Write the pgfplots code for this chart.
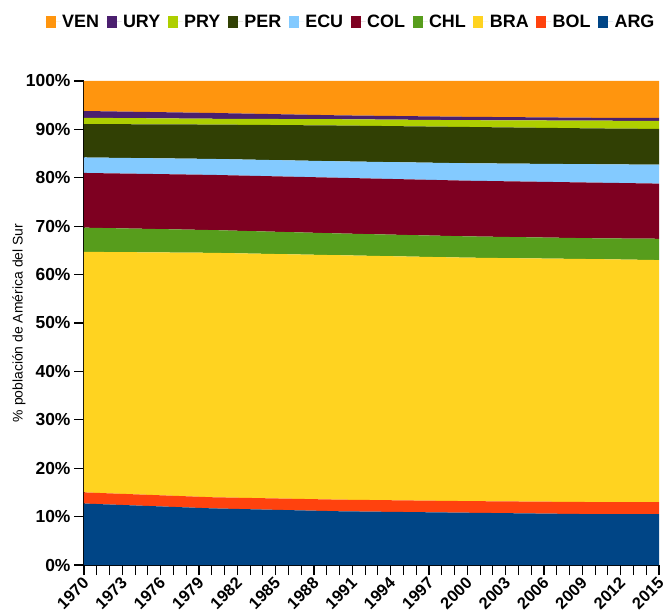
\documentclass[border=0pt]{standalone}
\usepackage{pgfplots}
\pgfplotsset{compat=1.18}
\usepackage{pgfplotstable}
\usepackage{fontspec}
\setmainfont{Liberation Sans}
\definecolor{cVEN}{HTML}{FF950E}
\definecolor{cURY}{HTML}{4B1F6F}
\definecolor{cPRY}{HTML}{AECF00}
\definecolor{cPER}{HTML}{314004}
\definecolor{cECU}{HTML}{83CAFF}
\definecolor{cCOL}{HTML}{7E0021}
\definecolor{cCHL}{HTML}{579D1C}
\definecolor{cBRA}{HTML}{FFD320}
\definecolor{cBOL}{HTML}{FF420E}
\definecolor{cARG}{HTML}{004586}
\pgfplotstableread{
year ARG BOL BRA CHL COL ECU PER PRY URY VEN
1970 12.7 2.3 49.7 5.0 11.3 3.2 6.9 1.3 1.4 6.2
1980 11.7 2.3 50.5 4.7 11.4 3.3 7.1 1.2 1.2 6.6
1990 11.1 2.4 50.5 4.5 11.5 3.4 7.4 1.3 0.8 7.1
2000 10.8 2.4 50.3 4.4 11.5 3.6 7.5 1.4 0.7 7.4
2010 10.5 2.5 50.2 4.3 11.5 3.8 7.4 1.6 0.6 7.6
2015 10.5 2.5 50.0 4.4 11.4 3.9 7.4 1.65 0.65 7.6
}\datatab
\begin{document}
\begin{tikzpicture}
\begin{axis}[
  name=ax,
  scale only axis,
  width=575bp, height=484bp,
  xmin=1970, xmax=2015, ymin=0, ymax=100,
  stack plots=y,
  axis lines*=left,
  axis line style={black, line width=1.2pt, -},
  tick align=outside,
  major tick length=10bp,
  minor tick length=10bp,
  tick style={black, line width=1.2pt},
  xtick={1970,1973,...,2015},
  minor xtick={1970,1971,...,2015},
  ytick={0,10,...,100},
  /pgf/number format/assume math mode=true,
  xticklabel={\pgfmathprintnumber[1000 sep={}]{\tick}},
  yticklabel={\pgfmathprintnumber{\tick}\%},
  yticklabel style={font=\bfseries\fontsize{17.5}{19}\selectfont},
  xticklabel style={font=\bfseries\fontsize{16.5}{18}\selectfont, rotate=45, anchor=east, xshift=1bp, yshift=-5bp},
  ylabel={\% población de América del Sur},
  ylabel style={font=\fontsize{14}{16}\selectfont, at={(rel axis cs:0,0.5)}, anchor=center, yshift=65bp},
  legend columns=10,
  reverse legend,
  legend style={draw=none, fill=none, at={(rel axis cs:0.464,1.122)}, anchor=center,
    font=\bfseries\fontsize{18}{20}\selectfont,
    nodes={inner xsep=1.5bp},
    /tikz/every even column/.append style={column sep=6bp},
    inner sep=0pt},
  legend image code/.code={\path (0bp,0bp) -- (15bp,0bp); \fill[#1] (0bp,-6bp) rectangle (10bp,6bp);},
  clip=false,
]
\addplot[fill=cARG, draw=none] table[x=year, y=ARG] {\datatab} \closedcycle;
\addplot[fill=cBOL, draw=none] table[x=year, y=BOL] {\datatab} \closedcycle;
\addplot[fill=cBRA, draw=none] table[x=year, y=BRA] {\datatab} \closedcycle;
\addplot[fill=cCHL, draw=none] table[x=year, y=CHL] {\datatab} \closedcycle;
\addplot[fill=cCOL, draw=none] table[x=year, y=COL] {\datatab} \closedcycle;
\addplot[fill=cECU, draw=none] table[x=year, y=ECU] {\datatab} \closedcycle;
\addplot[fill=cPER, draw=none] table[x=year, y=PER] {\datatab} \closedcycle;
\addplot[fill=cPRY, draw=none] table[x=year, y=PRY] {\datatab} \closedcycle;
\addplot[fill=cURY, draw=none] table[x=year, y=URY] {\datatab} \closedcycle;
\addplot[fill=cVEN, draw=none] table[x=year, y=VEN] {\datatab} \closedcycle;
\legend{ARG,BOL,BRA,CHL,COL,ECU,PER,PRY,URY,VEN}
\end{axis}
\pgfresetboundingbox
\path[use as bounding box] ([shift={(-84bp,-51bp)}]ax.south west) rectangle ([shift={(6bp,81bp)}]ax.north east);
\end{tikzpicture}
\end{document}
